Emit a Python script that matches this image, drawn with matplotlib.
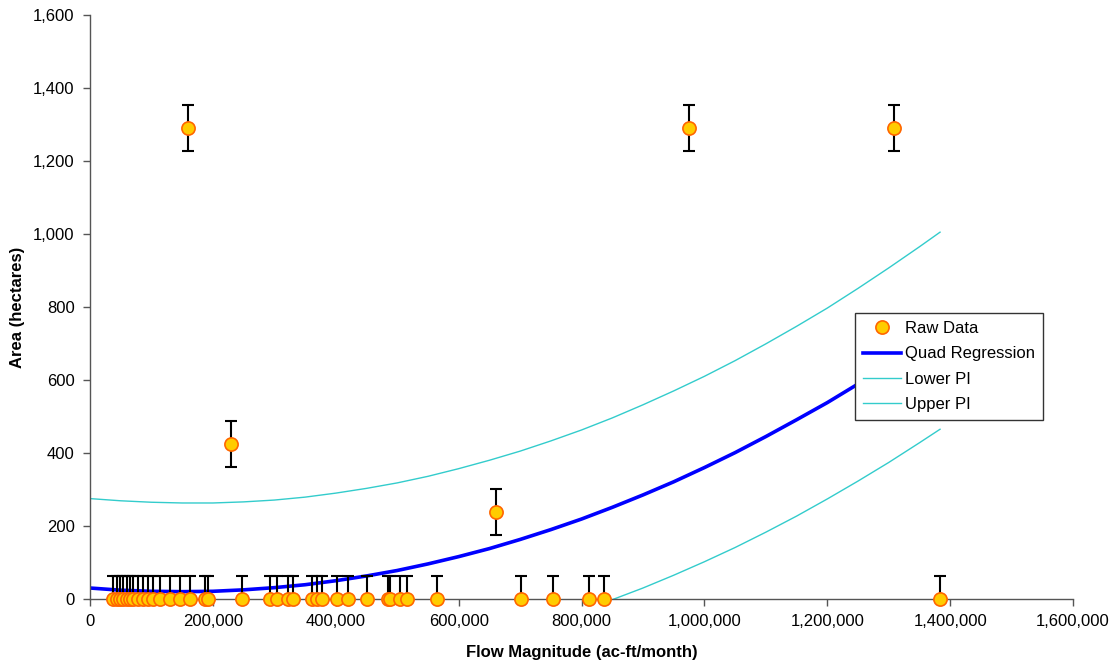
"""
Flow magnitude vs inundated area: raw points with quadratic fit and
prediction-interval band, Excel-style layout.
"""
import matplotlib
matplotlib.use("Agg")
import matplotlib.pyplot as plt
from matplotlib.ticker import FuncFormatter

# ── raw observations (ac-ft/month, hectares) ────────────────────────────────
FLOW = [37400, 43900, 48800, 53700, 60200, 65100, 70000, 78100, 86300, 94400,
        102500, 113900, 130200, 146500, 162800, 187200, 192100, 247400,
        293000, 304400, 322300, 330500, 361300, 369500, 377600, 402000,
        419900, 450900, 485000, 488300, 504600, 516000, 564800, 701500,
        753600, 812200, 836600, 1383500,
        159500, 229500, 660800, 975000, 1308700]
AREA = [0] * 38 + [1290, 425, 238, 1290, 1290]
AREA_ERR = 63

# ── fitted curve and prediction interval, read at these flows ───────────────
FIT_X = [0, 50000, 100000, 150000, 200000, 250000, 300000, 350000, 400000,
         450000, 500000, 550000, 600000, 650000, 700000, 750000, 800000,
         850000, 900000, 950000, 1000000, 1050000, 1100000, 1150000,
         1200000, 1250000, 1300000, 1350000, 1383500]
QUAD = [30, 24, 21, 20, 21, 25, 31, 39, 50, 63, 78, 96, 116, 138, 163, 190,
        219, 251, 285, 321, 360, 401, 445, 491, 538, 589, 642, 697, 735]
LOWER_PI = [-215, -219, -222, -222, -220, -216, -209, -201, -190, -177,
            -162, -145, -125, -106, -86, -63, -33, -2, 30, 65, 102, 141,
            183, 227, 274, 323, 374, 428, 465]
UPPER_PI = [275, 269, 265, 263, 263, 266, 271, 279, 290, 303, 318, 336,
            357, 380, 405, 433, 463, 496, 532, 570, 610, 653, 699, 747,
            797, 851, 907, 965, 1005]

TEXT = "#000000"
AXIS = "#555555"


def main() -> None:
    plt.rcParams["font.family"] = ["Liberation Sans", "DejaVu Sans"]
    fig = plt.figure(figsize=(11.18, 6.67), dpi=100)
    ax = fig.add_axes([0.0805, 0.102, 0.8793, 0.8755])

    ax.errorbar(FLOW, AREA, yerr=AREA_ERR, fmt="none", ecolor="black",
                elinewidth=1.5, capsize=4, capthick=1.5, zorder=3)
    ax.plot(FLOW, AREA, linestyle="none", marker="o", markersize=9.5,
            markerfacecolor="#FFCC00", markeredgecolor="#FF6600",
            markeredgewidth=1.2, clip_on=False, zorder=4, label="Raw Data")
    ax.plot(FIT_X, QUAD, color="#0000FF", lw=2.6, zorder=2,
            label="Quad Regression")
    ax.plot(FIT_X, LOWER_PI, color="#33CCCC", lw=1, zorder=2,
            label="Lower PI")
    ax.plot(FIT_X, UPPER_PI, color="#33CCCC", lw=1, zorder=2,
            label="Upper PI")

    ax.set_xlim(0, 1600000)
    ax.set_ylim(0, 1600)
    ax.set_xticks(range(0, 1600001, 200000))
    ax.set_yticks(range(0, 1601, 200))
    comma = FuncFormatter(lambda v, _: f"{int(v):,}")
    ax.xaxis.set_major_formatter(comma)
    ax.yaxis.set_major_formatter(comma)

    for side in ("top", "right"):
        ax.spines[side].set_visible(False)
    for side in ("left", "bottom"):
        ax.spines[side].set_color(AXIS)
        ax.spines[side].set_linewidth(1)
    ax.tick_params(direction="out", length=5, width=1, color=AXIS,
                   labelsize=12, labelcolor=TEXT, pad=6)

    ax.set_xlabel("Flow Magnitude (ac-ft/month)", fontsize=12,
                  fontweight="bold", labelpad=11)
    ax.set_ylabel("Area (hectares)", fontsize=12, fontweight="bold")
    ax.yaxis.set_label_coords(-0.066, 0.5)

    leg = ax.legend(loc="upper left", bbox_to_anchor=(0.778, 0.49),
                    fontsize=12, frameon=True, fancybox=False,
                    framealpha=1, borderpad=0.5, labelspacing=0.62,
                    handlelength=2.3, handletextpad=0.2, borderaxespad=0)
    leg.set_zorder(10)
    leg.get_frame().set_edgecolor("#333333")
    leg.get_frame().set_linewidth(1)

    fig.savefig("out.png", dpi=100)
    plt.close(fig)


if __name__ == "__main__":
    main()
